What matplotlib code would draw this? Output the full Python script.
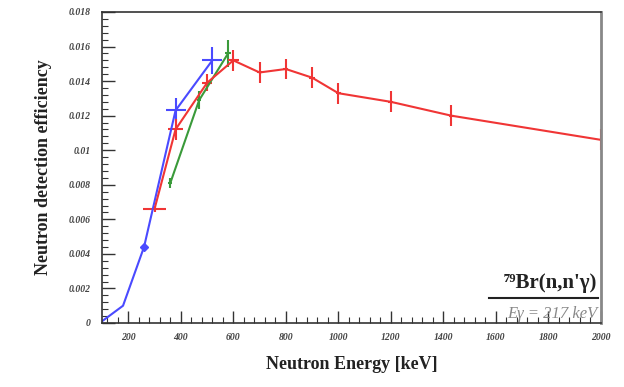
import matplotlib.pyplot as plt
from matplotlib.ticker import MultipleLocator, FuncFormatter

# red series (main measurement)
red_e = [300, 380, 500, 600, 700, 800, 900, 1000, 1200, 1430, 2000]
red_eff = [0.0066, 0.0112, 0.0139, 0.0152, 0.0145, 0.0147, 0.0142, 0.0133, 0.0128, 0.0120, 0.0106]
red_xerr = [45, 30, 20, 20, 10, 10, 10, 10, 10, 10, 5]
red_yerr = [0.0002, 0.0006, 0.0005, 0.0006, 0.0006, 0.0006, 0.0006, 0.0006, 0.0006, 0.0006, 0.0006]

# blue series
blue_e = [100, 180, 260, 380, 520]
blue_eff = [0.0001, 0.0010, 0.0044, 0.0123, 0.0152]
blue_xerr = [0, 0, 12, 38, 38]
blue_yerr = [0, 0, 0.00015, 0.0007, 0.0008]

# green series
green_e = [360, 470, 580]
green_eff = [0.0081, 0.0129, 0.0156]
green_xerr = [8, 8, 10]
green_yerr = [0.0003, 0.0005, 0.0008]

serif = 'Liberation Serif'

fig = plt.figure(figsize=(6.24, 3.87), dpi=100)
ax = fig.add_axes([0.1635, 0.1654, 0.7995, 0.8036])

ax.errorbar(blue_e, blue_eff, xerr=blue_xerr, yerr=blue_yerr, color='#4a4aff',
            lw=1.5, elinewidth=1.5, capsize=0, marker='D', ms=4, markevery=[2])
ax.errorbar(green_e, green_eff, xerr=green_xerr, yerr=green_yerr, color='#3a9a3a',
            lw=1.5, elinewidth=1.5, capsize=0)
ax.errorbar(red_e, red_eff, xerr=red_xerr, yerr=red_yerr, color='#f03535',
            lw=1.5, elinewidth=1.5, capsize=0)

ax.set_xlim(100, 2000)
ax.set_ylim(0, 0.018)
ax.xaxis.set_major_locator(MultipleLocator(200))
ax.xaxis.set_minor_locator(MultipleLocator(40))
ax.yaxis.set_major_locator(MultipleLocator(0.002))
ax.yaxis.set_minor_locator(MultipleLocator(0.0004))

def yfmt(v, pos):
    s = ('%.3f' % v).rstrip('0').rstrip('.')
    return s
ax.yaxis.set_major_formatter(FuncFormatter(yfmt))

ax.tick_params(which='both', direction='in', top=False, right=False, color='#333333')
ax.tick_params(which='major', length=9, width=1)
ax.tick_params(which='minor', length=4.5, width=0.8)
for lab in ax.get_xticklabels() + ax.get_yticklabels():
    lab.set_fontfamily(serif)
    lab.set_fontweight('bold')
    lab.set_fontstyle('italic')
    lab.set_fontsize(7)
    lab.set_color('#444444')
ax.tick_params(axis='x', pad=7)
ax.tick_params(axis='y', pad=8)

for s in ['left', 'bottom', 'top']:
    ax.spines[s].set_color('#333333')
    ax.spines[s].set_linewidth(1.2)
ax.spines['right'].set_color('#888888')
ax.spines['right'].set_linewidth(2)

ax.set_xlabel('Neutron Energy [keV]', fontfamily=serif, fontweight='bold',
              fontsize=13, labelpad=10, color='#222222')
ax.set_ylabel('Neutron detection efficiency', fontfamily=serif, fontweight='bold',
              fontsize=13, labelpad=12, color='#222222')

ax.text(0.993, 0.13, "\u2077\u2079Br(n,n'\u03b3)", transform=ax.transAxes,
        ha='right', va='center', fontfamily=[serif, 'DejaVu Serif'], fontweight='bold',
        fontsize=15, color='#222222')
ax.plot([0.775, 0.995], [0.08, 0.08], transform=ax.transAxes, color='#222222', lw=1.5)
ax.text(0.993, 0.03, "E\u03b3 = 217 keV", transform=ax.transAxes,
        ha='right', va='center', fontfamily=serif, fontstyle='italic',
        fontsize=12, color='#888888')

fig.savefig('out.png', dpi=100)
